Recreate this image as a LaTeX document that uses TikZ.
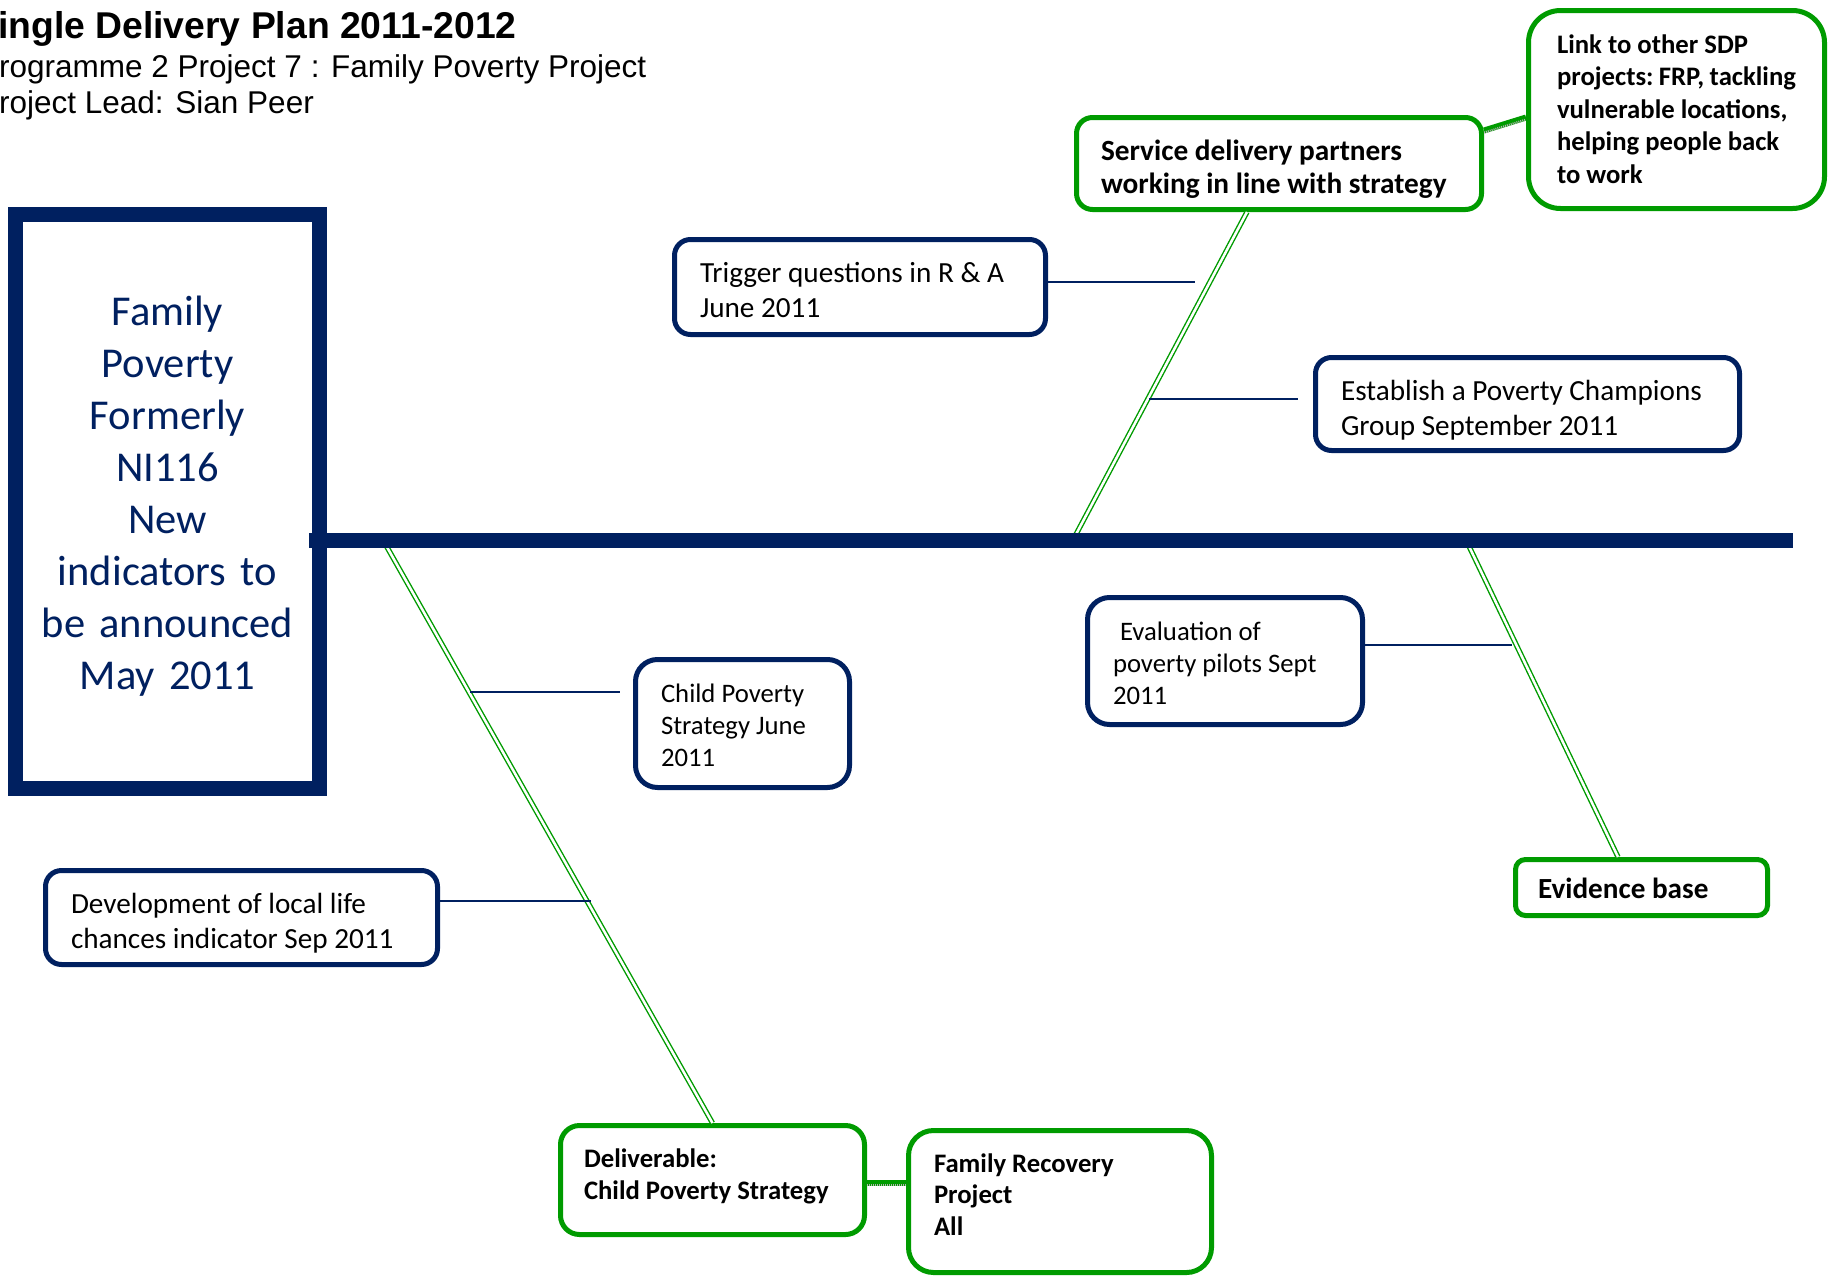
\documentclass[tikz,border=0pt]{standalone}
\usepackage{fontspec}
\setmainfont{Carlito}
\newfontfamily\arialfont{Liberation Sans}
\definecolor{navy}{RGB}{0,32,96}
\definecolor{sdpgreen}{RGB}{0,155,0}
\hyphenpenalty=10000
\exhyphenpenalty=10000

\begin{document}
\begin{tikzpicture}[x=1pt, y=-1pt,
    navybox/.style={draw=navy, line width=5pt, fill=white, rounded corners=#1,
        anchor=north west, inner xsep=25.5pt, inner ysep=0pt, align=flush left,
        text height=43pt, font=\fontsize{29.2}{35}\selectfont},
    navybox/.default=16pt,
    greenbox/.style={navybox=#1, draw=sdpgreen, font=\bfseries\fontsize{26.7}{32.5}\selectfont},
    greenbox/.default=16pt,
    bone/.style={draw=sdpgreen, double=white, double distance=2.5pt, line width=1.4pt},
    rib/.style={draw=navy, line width=2pt},
    spine/.style={draw=navy, line width=15pt},
    linkbar/.style={draw=sdpgreen, line width=6pt},
    linkhatch/.style={draw=gray!60, line width=2pt, dash pattern=on 1pt off 1pt}]

    \useasboundingbox (0,0) rectangle (1829,1277);

    % Heading, cut at the left edge
    \node[anchor=base west, inner sep=0pt, font=\arialfont\bfseries\fontsize{37.3}{45}\selectfont] (title) at (-2,38) {ingle Delivery Plan 2011-2012};
    \node[anchor=base west, inner sep=0pt, font=\arialfont\fontsize{31.5}{38}\selectfont] (prog) at (-1,77) {rogramme 2 Project 7 : Family Poverty Project};
    \node[anchor=base west, inner sep=0pt, font=\arialfont\fontsize{31.5}{38}\selectfont] (lead) at (-1,113) {roject Lead: Sian Peer};

    % Head of the fishbone
    \node[draw=navy, line width=15pt, fill=white, inner sep=0pt, text width=304pt,
        text height=110.5pt, text depth=463.5pt, anchor=north west, align=center,
        text=navy, font=\fontsize{42.5}{52}\selectfont] (main) at (8,207)
        {Family\\Poverty\\Formerly\\NI116\\New\\indicators to\\be announced\\May 2011};

    % Navy milestone boxes
    \node[navybox, text width=320pt, text depth=52pt] (trig) at (672,237) {Trigger questions in R \& A\\June 2011};
    \node[navybox, text width=373pt, text depth=50pt] (est) at (1313,355) {Establish a Poverty Champions\\Group September 2011};
    \node[navybox=22pt, text width=224pt, text depth=84pt, font=\fontsize{26.7}{32}\selectfont] (eval) at (1085,595) {\hspace{7pt}Evaluation of\\poverty pilots Sept\\2011};
    \node[navybox=22pt, text width=163pt, text depth=85pt, font=\fontsize{26.7}{32}\selectfont] (child) at (633,657) {Child Poverty\\Strategy June\\2011};
    \node[navybox, text width=341pt, text depth=51pt] (devl) at (43,868) {Development of local life\\chances indicator Sep 2011};

    % Green outcome boxes
    \node[greenbox, inner xsep=24.5pt, text width=356pt, text depth=49pt, font=\bfseries\fontsize{29.3}{33}\selectfont] (serv) at (1074,115) {Service delivery partners\\working~in~line~with~strategy};
    \node[greenbox=32pt, inner xsep=28.5pt, text width=239pt, text height=42.5pt, text depth=155.5pt] (link) at (1526,8) {Link to other SDP\\projects:~FRP,~tackling\\vulnerable locations,\\helping people back\\to work};
    \node[greenbox=10pt, inner xsep=22.5pt, text width=207pt, text height=38.5pt, text depth=17.5pt, font=\bfseries\fontsize{29.2}{35}\selectfont] (evid) at (1513,857) {Evidence base};
    \node[greenbox=19pt, inner xsep=23.5pt, text width=257pt, text height=41.5pt, text depth=67.5pt, font=\bfseries\fontsize{26.7}{32}\selectfont] (deliv) at (558,1123) {Deliverable:\\Child Poverty Strategy};
    \node[greenbox=25pt, text width=252pt, text height=41.5pt, text depth=100.5pt, font=\bfseries\fontsize{26.7}{31.5}\selectfont] (famr) at (906,1128) {Family Recovery\\Project\\All};

    % Points on the spine where the bones start
    \coordinate (b1) at (1073,540);
    \coordinate (b2) at (383,540);
    \coordinate (b3) at (1466,540);

    % Green double bones
    \draw[bone] (b1) -- ([xshift=173pt]serv.south west);
    \draw[bone] (b2) -- (deliv.north);
    \draw[bone] (b3) -- ([xshift=105pt]evid.north west);

    % Navy ribs from the bones to the milestones
    \coordinate (r1) at (1195,282);
    \coordinate (r2) at (1149,399);
    \coordinate (r3) at (470,692);
    \coordinate (r4) at (591,901);
    \coordinate (r5) at (1512,645);
    \draw[rib] (trig.east |- r1) -- (r1);
    \draw[rib] (r2) -- ([xshift=-15pt]est.west |- r2);
    \draw[rib] (r3) -- ([xshift=-13pt]child.west |- r3);
    \draw[rib] (devl.east |- r4) -- (r4);
    \draw[rib] (eval.east |- r5) -- (r5);

    % Spine
    \coordinate (head) at (1793,540);
    \draw[spine] ([xshift=-18pt]main.east |- head) -- (head);

    % Links between green boxes
    \draw[linkbar] ([yshift=33pt]serv.east) -- ([yshift=-8pt]link.west);
    \draw[linkhatch] ([yshift=31pt]serv.east) -- ([yshift=-10pt]link.west);
    \draw[linkbar] ([yshift=-3pt]deliv.east) -- ([yshift=-3pt]deliv.east -| famr.west);
    \draw[linkhatch] ([yshift=-5pt]deliv.east) -- ([yshift=-5pt]deliv.east -| famr.west);

\end{tikzpicture}
\end{document}
